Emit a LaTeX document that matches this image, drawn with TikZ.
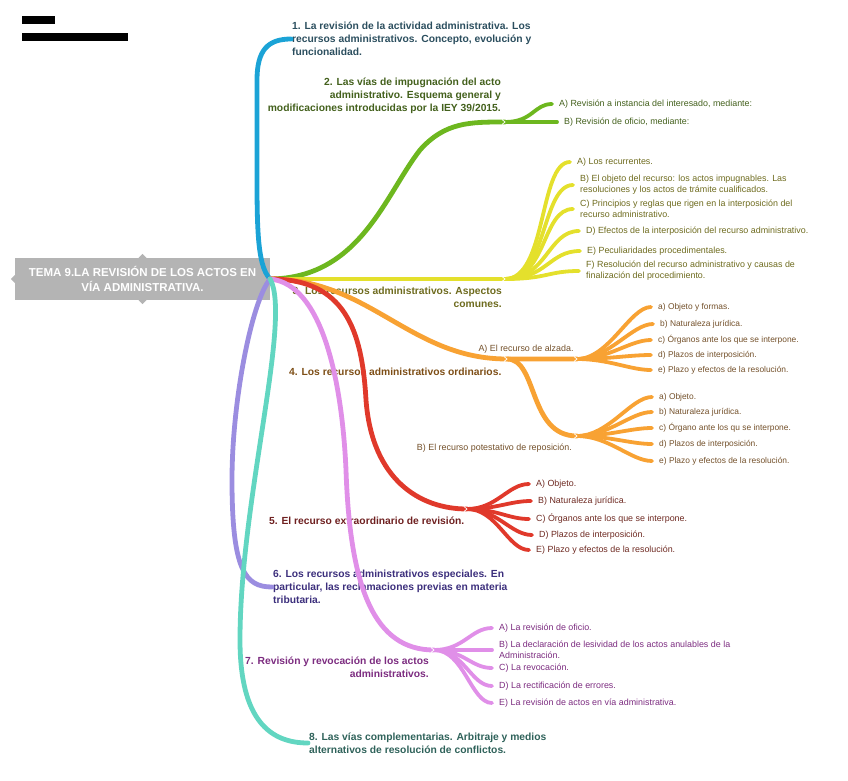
\documentclass[tikz,border=0pt]{standalone}
\usepackage{fontspec}
\setmainfont{Liberation Sans}
\usetikzlibrary{positioning}

\definecolor{tgray}{HTML}{B4B4B4}
\definecolor{cblue}{HTML}{1BA3D6}
\definecolor{cgreen}{HTML}{6DB71F}
\definecolor{cyel}{HTML}{E4E02C}
\definecolor{corange}{HTML}{F8A233}
\definecolor{cred}{HTML}{E0392B}
\definecolor{cpurp}{HTML}{9B8DE0}
\definecolor{cpink}{HTML}{E08FE8}
\definecolor{cteal}{HTML}{62D6C1}
\definecolor{t1}{HTML}{2B4E5E}
\definecolor{t2}{HTML}{43601C}
\definecolor{t3}{HTML}{6E6B1E}
\definecolor{t4}{HTML}{7D4E16}
\definecolor{t5}{HTML}{6E2020}
\definecolor{t6}{HTML}{3C2F7C}
\definecolor{t7}{HTML}{7C2C80}
\definecolor{t8}{HTML}{2F625A}
\definecolor{s4}{HTML}{73502A}
\definecolor{s5}{HTML}{6E2A22}

\begin{document}
\begin{tikzpicture}[x=1pt,y=-1pt,
  br/.style={line width=4.8pt,line cap=round},
  sb/.style={line width=3.8pt,line cap=round,shorten >=4pt},
  lbl/.style={font=\fontsize{10.3}{13}\selectfont\bfseries,inner sep=1pt},
  itm/.style={font=\fontsize{8.9}{10.8}\selectfont,anchor=west,align=left,inner sep=3pt},
  itmo/.style={itm,font=\fontsize{8.4}{10.5}\selectfont}]
\useasboundingbox (0,0) rectangle (848,781);
% header (blacked out)
\fill[black] (22,16) rectangle (55,24);
\fill[black] (22,33) rectangle (128,41);

% central topic
\node[fill=tgray,text=white,minimum width=255pt,minimum height=42pt,inner sep=0pt,align=center,
  font=\fontsize{11.5}{15}\selectfont\bfseries] (tema) at (142.5,279) {TEMA 9.LA REVISIÓN DE LOS ACTOS EN\\VÍA ADMINISTRATIVA.};
\fill[tgray] (tema.north) ++(-4,0) -- ++(4,-4) -- ++(4,4);
\fill[tgray] (tema.south) ++(-4,0) -- ++(4,4) -- ++(4,-4);
\fill[tgray] (tema.west) ++(0,-4) -- ++(-4,4) -- ++(4,4);
\coordinate (root) at (tema.east);

\coordinate (j2) at (505,122);
\coordinate (j3) at (505,279);
\coordinate (jA) at (507,359);
\coordinate (jA2) at (577,359);
\coordinate (jB) at (577,436);
\coordinate (j5) at (467,509);
\coordinate (j7) at (434,650);

% main labels
\node[lbl,text=t1,anchor=west,align=left] (l1) at (291,39) {1. La revisión de la actividad administrativa. Los\\recursos administrativos. Concepto, evolución y\\funcionalidad.};
\node[lbl,text=t2,anchor=north east,align=right] (l2) at (502,77) {2. Las vías de impugnación del acto\\administrativo. Esquema general y\\modificaciones introducidas por la IEY 39/2015.};
\node[lbl,text=t3,anchor=north east,align=right] (l3) at (503,286) {3. Los recursos administrativos. Aspectos\\comunes.};
\node[lbl,text=t4,anchor=west] (l4) at (288,372) {4. Los recursos administrativos ordinarios.};
\node[lbl,text=t5,anchor=west] (l5) at (268,521) {5. El recurso extraordinario de revisión.};
\node[lbl,text=t6,anchor=west,align=left] (l6) at (272,587) {6. Los recursos administrativos especiales. En\\particular, las reclamaciones previas en materia\\tributaria.};
\node[lbl,text=t7,anchor=north east,align=right] (l7) at (430,656) {7. Revisión y revocación de los actos\\administrativos.};
\node[lbl,text=t8,anchor=west,align=left] (l8) at (308,743) {8. Las vías complementarias. Arbitraje y medios\\alternativos de resolución de conflictos.};
\node[itm,text=s4,anchor=center] (alz) at (526,349) {A) El recurso de alzada.};
\node[itm,text=s4,anchor=east] (rep) at (575,448) {B) El recurso potestativo de reposición.};

% 1
\draw[br,cblue] (root) .. controls (256,265) and (257,220) .. (257,150) -- (257,80) .. controls (257,50) and (268,39) .. (l1.west);
% 2
\draw[br,cgreen] (root) .. controls (360,278) and (385,195) .. (420,150) .. controls (445,122) and (470,122) .. (j2);
\node[itm,text=t2] (gA) at (556,104) {A) Revisión a instancia del interesado, mediante:};
\node[itm,text=t2] (gB) at (561,122) {B) Revisión de oficio, mediante:};
\draw[sb,cgreen] (j2) .. controls +(28,0) and +(-22,0) .. (gA.west);
\draw[sb,cgreen] (j2) -- (gB.west);
% 3
\draw[br,cyel] (root) -- (j3);
\foreach \n/\x/\y/\t in {
 a/574/162/{A) Los recurrentes.},
 b/577/185/{B) El objeto del recurso: los actos impugnables. Las\\resoluciones y los actos de trámite cualificados.},
 c/577/209/{C) Principios y reglas que rigen en la interposición del\\recurso administrativo.},
 d/583/231/{D) Efectos de la interposición del recurso administrativo.},
 e/584/251/{E) Peculiaridades procedimentales.},
 f/583/271/{F) Resolución del recurso administrativo y causas de\\finalización del procedimiento.}}{
 \node[itm,text=t3] (y\n) at (\x,\y) {\t};
 \draw[sb,cyel] (j3) .. controls +(42,0) and +(-35,0) .. (y\n.west);
}
% 4
\draw[br,corange] (root) .. controls (370,279) and (410,359) .. (jA) -- (jA2);
\draw[br,corange] (jA) .. controls (538,359) and (528,436) .. (jB);
\foreach \n/\x/\y/\t in {
 a/655/307/{a) Objeto y formas.},
 b/657/324/{b) Naturaleza jurídica.},
 c/655/340/{c) Órganos ante los que se interpone.},
 d/655/355/{d) Plazos de interposición.},
 e/655/370/{e) Plazo y efectos de la resolución.}}{
 \node[itmo,text=s4] (oa\n) at (\x,\y) {\t};
 \draw[sb,corange] (jA2) .. controls +(32,0) and +(-25,0) .. (oa\n.west);
}
\foreach \n/\x/\y/\t in {
 a/656/397/{a) Objeto.},
 b/656/412/{b) Naturaleza jurídica.},
 c/656/428/{c) Órgano ante los qu se interpone.},
 d/656/444/{d) Plazos de interposición.},
 e/656/461/{e) Plazo y efectos de la resolución.}}{
 \node[itmo,text=s4] (ob\n) at (\x,\y) {\t};
 \draw[sb,corange] (jB) .. controls +(32,0) and +(-25,0) .. (ob\n.west);
}
% 5
\draw[br,cred] (root) .. controls (345,279) and (362,330) .. (366,400) .. controls (372,480) and (420,509) .. (j5);
\foreach \n/\x/\y/\t in {
 a/533/484/{A) Objeto.},
 b/535/501/{B) Naturaleza jurídica.},
 c/533/519/{C) Órganos ante los que se interpone.},
 d/536/535/{D) Plazos de interposición.},
 e/533/550/{E) Plazo y efectos de la resolución.}}{
 \node[itm,text=s5] (r\n) at (\x,\y) {\t};
 \draw[sb,cred] (j5) .. controls +(30,0) and +(-25,0) .. (r\n.west);
}
% 6
\draw[br,cpurp] (root) .. controls (252,300) and (232,400) .. (232,480) .. controls (232,570) and (245,587) .. (l6.west);
% 7
\draw[br,cpink] (root) .. controls (322,284) and (342,380) .. (346,470) .. controls (350,590) and (375,650) .. (j7);
\foreach \n/\x/\y/\t in {
 a/496/628/{A) La revisión de oficio.},
 b/496/650/{B) La declaración de lesividad de los actos anulables de la\\Administración.},
 c/496/668/{C) La revocación.},
 d/496/686/{D) La rectificación de errores.},
 e/496/703/{E) La revisión de actos en vía administrativa.}}{
 \node[itm,text=t7] (p\n) at (\x,\y) {\t};
 \draw[sb,cpink] (j7) .. controls +(30,0) and +(-25,0) .. (p\n.west);
}
% 8
\draw[br,cteal] (root) .. controls (292,320) and (240,500) .. (240,640) .. controls (240,720) and (270,743) .. (l8.west);

\foreach \j in {j2,j3,jA,jA2,jB,j5,j7}
 \draw[white,line width=0.7pt] (\j) ++(-3,-2.5) -- ++(3,2.5) -- ++(-3,2.5);
\end{tikzpicture}
\end{document}
